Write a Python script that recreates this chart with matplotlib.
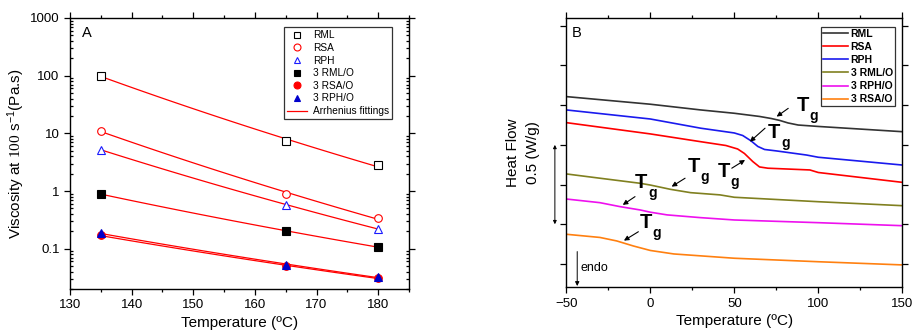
import numpy as np
import matplotlib
matplotlib.use("Agg")
import matplotlib.pyplot as plt
from matplotlib.lines import Line2D
from matplotlib.ticker import MultipleLocator, LogLocator, FixedLocator, NullFormatter, FuncFormatter

plt.rcParams["font.family"] = ["Liberation Sans", "DejaVu Sans"]
plt.rcParams["mathtext.fontset"] = "custom"
plt.rcParams["mathtext.rm"] = "Liberation Serif"
plt.rcParams["mathtext.sf"] = "Liberation Sans"
plt.rcParams["mathtext.bf"] = "Liberation Sans:bold"

# ── panel A: viscosity vs temperature ─────────────────────────────────────────
temps = [135, 165, 180]
visc_rml = [100, 7.3, 2.8]
visc_rsa = [11, 0.89, 0.34]
visc_rph = [5.2, 0.58, 0.22]
visc_rml_o = [0.89, 0.20, 0.108]
visc_rsa_o = [0.170, 0.050, 0.031]
visc_rph_o = [0.185, 0.053, 0.032]

# ── panel B: DSC curves (heat flow, W/g, shifted) ────────────────────────────
rml_x = [-50, 0, 30, 50, 65, 72, 77, 82, 88, 100, 150]
rml_y = [1.054, 1.006, 0.970, 0.949, 0.929, 0.916, 0.904, 0.888, 0.875, 0.866, 0.833]
rph_x = [-50, 0, 30, 50, 55, 60, 64, 68, 75, 93, 100, 150]
rph_y = [0.970, 0.913, 0.855, 0.825, 0.809, 0.775, 0.740, 0.721, 0.712, 0.686, 0.672, 0.623]
rsa_x = [-50, 0, 30, 45, 52, 56, 61, 65, 70, 95, 100, 150]
rsa_y = [0.890, 0.819, 0.770, 0.746, 0.724, 0.696, 0.645, 0.611, 0.603, 0.592, 0.576, 0.514]
rml_o_x = [-50, -30, -6, 0, 12, 24, 41.5, 50, 100, 150]
rml_o_y = [0.567, 0.540, 0.508, 0.497, 0.470, 0.449, 0.435, 0.420, 0.392, 0.367]
rph_o_x = [-50, -30, -18, -6, 0, 10, 29.5, 50, 100, 150]
rph_o_y = [0.409, 0.386, 0.361, 0.340, 0.326, 0.309, 0.292, 0.277, 0.260, 0.241]
rsa_o_x = [-50, -30, -20, -10, 0, 14, 50, 100, 150]
rsa_o_y = [0.187, 0.167, 0.145, 0.113, 0.085, 0.063, 0.036, 0.014, -0.006]

# Tg labels: (text x, text y, arrow tail x, tail y, arrow tip x, tip y)
tg_marks = [
    (87.1, 0.965, 82.1, 0.980, 75.2, 0.928),
    (70.2, 0.792, 68.3, 0.855, 59.3, 0.770),
    (39.9, 0.546, 48.5, 0.603, 56.4, 0.655),
    (22.0, 0.581, 20.7, 0.540, 12.7, 0.487),
    (-9.1, 0.477, -9.1, 0.424, -16.4, 0.372),
    (-6.5, 0.225, -7.1, 0.203, -15.7, 0.147),
]


def arrhenius_fit(t, eta):
    inv_t = 1.0 / (np.asarray(t, dtype=float) + 273.15)
    b, a = np.polyfit(inv_t, np.log(eta), 1)
    t_fine = np.linspace(min(t), max(t), 60)
    return t_fine, np.exp(a + b / (t_fine + 273.15))


fig = plt.figure(figsize=(9.17, 3.33), dpi=100)

# ════════════════════════════════════════════════════════════════════
# PANEL A
# ════════════════════════════════════════════════════════════════════
axA = fig.add_axes([70 / 917, 1 - 289 / 333, 339 / 917, 271 / 333])

series_a = [
    (visc_rml, "s", "black", "white", "RML"),
    (visc_rsa, "o", "red", "white", "RSA"),
    (visc_rph, "^", "#1a1aff", "white", "RPH"),
    (visc_rml_o, "s", "black", "black", "3 RML/O"),
    (visc_rsa_o, "o", "red", "red", "3 RSA/O"),
    (visc_rph_o, "^", "#0000cc", "#0000cc", "3 RPH/O"),
]
handles = []
for vals, mk, ec, fc, lab in series_a:
    tf, ef = arrhenius_fit(temps, vals)
    axA.plot(tf, ef, color="red", lw=0.9, zorder=2)
    axA.plot(temps, vals, ls="none", marker=mk, ms=5.5, mec=ec, mfc=fc, mew=0.8, zorder=3)
    handles.append(Line2D([], [], ls="none", marker=mk, ms=5, mec=ec, mfc=fc, mew=0.8, label=lab))
handles.append(Line2D([], [], color="red", lw=0.9, label="Arrhenius fittings"))

axA.set_yscale("log")
axA.set_xlim(130, 185)
axA.set_ylim(0.02, 1000)
axA.xaxis.set_major_locator(FixedLocator([130, 140, 150, 160, 170, 180]))
axA.xaxis.set_minor_locator(MultipleLocator(5))
axA.yaxis.set_major_locator(FixedLocator([0.1, 1, 10, 100, 1000]))
axA.yaxis.set_minor_locator(LogLocator(base=10, subs=np.arange(2, 10)))
axA.yaxis.set_minor_formatter(NullFormatter())
axA.yaxis.set_major_formatter(FuncFormatter(lambda v, p: f"{v:g}"))
axA.tick_params(which="both", top=True, right=True, labelsize=9.5, width=0.9)
axA.tick_params(axis="x", which="major", direction="out", length=4)
axA.tick_params(axis="x", which="minor", direction="out", length=2.5)
axA.tick_params(axis="y", which="major", direction="out", length=4)
axA.tick_params(axis="y", which="minor", direction="in", length=2.5)
axA.set_xlabel("Temperature (ºC)", fontsize=11, labelpad=3)
axA.set_ylabel(r"Viscosity at $\mathrm{100}$ $\mathsf{s^{-1}}$(Pa.s)", fontsize=11, labelpad=2)
for s in axA.spines.values():
    s.set_linewidth(1.0)
axA.text(0.034, 0.946, "A", transform=axA.transAxes, fontsize=10.5, ha="left", va="center")

legA = axA.legend(handles=handles, loc="upper right", bbox_to_anchor=(0.951, 0.966),
                  fontsize=7.3, frameon=True, fancybox=False, edgecolor="black",
                  handlelength=2.0, handletextpad=0.6, labelspacing=0.26, borderpad=0.3,
                  borderaxespad=0)
legA.get_frame().set_linewidth(0.9)

# ════════════════════════════════════════════════════════════════════
# PANEL B
# ════════════════════════════════════════════════════════════════════
axB = fig.add_axes([566.3 / 917, 1 - 287.3 / 333, 336 / 917, 269.3 / 333])

curves_b = [
    (rml_x, rml_y, "#333333", "RML"),
    (rsa_x, rsa_y, "#ff0000", "RSA"),
    (rph_x, rph_y, "#1a1aee", "RPH"),
    (rml_o_x, rml_o_y, "#808020", "3 RML/O"),
    (rph_o_x, rph_o_y, "#ee10ee", "3 RPH/O"),
    (rsa_o_x, rsa_o_y, "#ff8010", "3 RSA/O"),
]
for xs, ys, col, lab in curves_b:
    axB.plot(xs, ys, color=col, lw=1.2, label=lab)

for tx, ty, ax_, ay_, px, py in tg_marks:
    axB.text(tx, ty, "T", fontsize=14.5, fontweight="bold", ha="left", va="baseline")
    axB.annotate("g", xy=(tx, ty), xytext=(9.5, -6.5), textcoords="offset points",
                 fontsize=10, fontweight="bold", ha="left", va="baseline")
    axB.annotate("", xy=(px, py), xytext=(ax_, ay_),
                 arrowprops=dict(arrowstyle="-|>", color="black", lw=0.8,
                                 mutation_scale=7, shrinkA=0, shrinkB=0))

axB.set_xlim(-50, 150)
axB.set_ylim(-0.147, 1.549)
axB.xaxis.set_major_locator(MultipleLocator(50))
axB.xaxis.set_minor_locator(MultipleLocator(25))
axB.yaxis.set_major_locator(FixedLocator(np.arange(0, 1.51, 0.25)))
axB.yaxis.set_major_formatter(NullFormatter())
axB.tick_params(which="both", top=True, right=True, labelsize=9.5, width=0.9)
axB.tick_params(axis="x", which="major", direction="out", length=4)
axB.tick_params(axis="x", which="minor", direction="out", length=2.5)
axB.tick_params(axis="y", which="major", direction="out", length=4)
axB.set_xlabel("Temperature (ºC)", fontsize=11, labelpad=3)
for s in axB.spines.values():
    s.set_linewidth(1.0)
axB.text(0.016, 0.945, "B", transform=axB.transAxes, fontsize=10.5, ha="left", va="center")

# y label (two lines) and 0.5 W/g scale bar
axB.text(-0.158, 0.5, "Heat Flow", transform=axB.transAxes, rotation=90,
         fontsize=11, ha="center", va="center")
axB.text(-0.098, 0.5, "0.5 (W/g)", transform=axB.transAxes, rotation=90,
         fontsize=11, ha="center", va="center")
axB.annotate("", xy=(-0.034, 0.25), xytext=(-0.034, 0.75),
             xycoords=axB.get_yaxis_transform(), textcoords=axB.get_yaxis_transform(),
             arrowprops=dict(arrowstyle="<|-|>", color="black", lw=0.7,
                             mutation_scale=5, shrinkA=0, shrinkB=0),
             annotation_clip=False)

# endo arrow
axB.annotate("", xy=(-43.5, -0.139), xytext=(-43.5, 0.078),
             arrowprops=dict(arrowstyle="-|>", color="black", lw=0.7,
                             mutation_scale=6, shrinkA=0, shrinkB=0))
axB.text(-41.5, -0.023, "endo", fontsize=9, ha="left", va="center")

legB = axB.legend(loc="upper right", bbox_to_anchor=(0.978, 0.968),
                  prop={"weight": "bold", "size": 7.5}, frameon=True, fancybox=False,
                  edgecolor="black", handlelength=2.4, handletextpad=0.25,
                  labelspacing=0.3, borderpad=0.2, borderaxespad=0)
legB.get_frame().set_linewidth(0.9)

fig.savefig("out.png", dpi=100)
